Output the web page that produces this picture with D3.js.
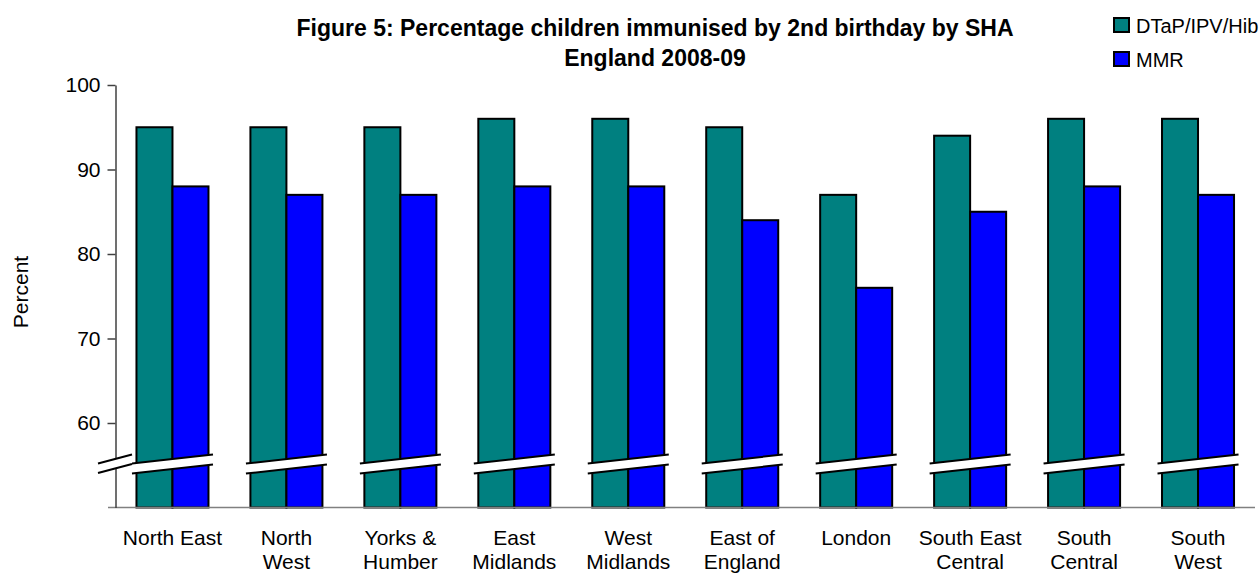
<!DOCTYPE html>
<html>
<head>
<meta charset="utf-8">
<script src="https://cdn.jsdelivr.net/npm/d3@7"></script>
<style>
  html, body { margin: 0; padding: 0; background: #fff; }
  svg { display: block; font-family: Arial, "Liberation Sans", sans-serif; }
</style>
</head>
<body>
<svg id="chart" width="1260" height="574"></svg>
<script>
// ---- data ----
const categories = ["North East", "North West", "Yorks & Humber", "East Midlands", "West Midlands",
                    "East of England", "London", "South East Central", "South Central", "South West"];
const categoryLabels = [["North East"], ["North", "West"], ["Yorks &", "Humber"], ["East", "Midlands"],
                        ["West", "Midlands"], ["East of", "England"], ["London"], ["South East", "Central"],
                        ["South", "Central"], ["South", "West"]];
const seriesNames = ["DTaP/IPV/Hib", "MMR"];
const dtapValues = [95, 95, 95, 96, 96, 95, 87, 94, 96, 96];
const mmrValues  = [88, 87, 87, 88, 88, 84, 76, 85, 88, 87];
const yTickValues = [60, 70, 80, 90, 100];
const yDomain = [50, 100];
const breakValue = 55.2;
const titleLines = ["Figure 5: Percentage children immunised by 2nd birthday by SHA", "England 2008-09"];
const yAxisTitle = "Percent";

const colors = { "DTaP/IPV/Hib": "#008080", "MMR": "#0000FF" };

// ---- layout ----
const svg = d3.select("#chart");
const plotLeft = 115.5, plotRight = 1255, plotTop = 85, plotBottom = 507.5;

const x0 = d3.scaleBand().domain(categories).range([plotLeft, plotRight])
  .paddingInner(0.368).paddingOuter(0.184);
const x1 = d3.scaleBand().domain(seriesNames).range([0, x0.bandwidth()]);
const y = d3.scaleLinear().domain(yDomain).range([plotBottom, plotTop]);

const rows = categories.map((c, i) => ({ cat: c, label: categoryLabels[i],
  vals: [{ s: seriesNames[0], v: dtapValues[i] }, { s: seriesNames[1], v: mmrValues[i] }] }));

// bars
const g = svg.append("g");
const groups = g.selectAll("g.grp").data(rows).join("g")
  .attr("class", "grp")
  .attr("transform", d => `translate(${x0(d.cat)},0)`);

groups.selectAll("rect").data(d => d.vals).join("rect")
  .attr("x", d => x1(d.s))
  .attr("y", d => y(d.v))
  .attr("width", x1.bandwidth())
  .attr("height", d => y(yDomain[0]) - y(d.v))
  .attr("fill", d => colors[d.s])
  .attr("stroke", "#000")
  .attr("stroke-width", 2);

// x axis line
svg.append("line")
  .attr("x1", 108).attr("x2", plotRight)
  .attr("y1", plotBottom).attr("y2", plotBottom)
  .attr("stroke", "#808080").attr("stroke-width", 1.5);

// y axis
const yAxis = d3.axisLeft(y).tickValues(yTickValues).tickSize(8).tickSizeOuter(0).tickPadding(7);
const ya = svg.append("g").attr("transform", `translate(${plotLeft},0)`).call(yAxis);
ya.select(".domain").attr("stroke", "#404040").attr("stroke-width", 1.5);
ya.selectAll(".tick line").attr("stroke", "#404040").attr("stroke-width", 1.5);
ya.selectAll(".tick text").attr("font-size", 21).attr("font-family", "Arial, 'Liberation Sans', sans-serif").attr("fill", "#000");

// breaks
const yb = y(breakValue);
const bw = x0.bandwidth();
function drawBreak(sel, xa, xb, rise, gap) {
  sel.append("polygon")
    .attr("points", `${xa},${yb} ${xb},${yb - rise} ${xb},${yb - rise + gap} ${xa},${yb + gap}`)
    .attr("fill", "#fff");
  [0, gap].forEach(o => sel.append("line")
    .attr("x1", xa).attr("y1", yb + o).attr("x2", xb).attr("y2", yb - rise + o)
    .attr("stroke", "#000").attr("stroke-width", 2));
}
groups.each(function () { drawBreak(d3.select(this), -4.5, bw + 4.5, 9, 10); });
drawBreak(svg.append("g").attr("transform", `translate(${plotLeft},0)`), -17.5, 16.5, 9, 9.5);

// x labels
groups.append("text")
  .attr("x", bw / 2)
  .attr("y", 545)
  .attr("text-anchor", "middle")
  .attr("font-size", 21)
  .attr("fill", "#000")
  .selectAll("tspan").data(d => d.label).join("tspan")
  .attr("x", bw / 2)
  .attr("dy", (d, i) => i === 0 ? 0 : 24)
  .text(d => d);

// y axis title
svg.append("text")
  .attr("transform", "translate(28,292) rotate(-90)")
  .attr("text-anchor", "middle")
  .attr("font-size", 21)
  .attr("fill", "#000")
  .text(yAxisTitle);

// title
svg.append("text")
  .attr("x", 655).attr("y", 36)
  .attr("text-anchor", "middle")
  .attr("font-size", 23).attr("font-weight", "bold")
  .selectAll("tspan").data(titleLines).join("tspan")
  .attr("x", 655)
  .attr("dy", (d, i) => i === 0 ? 0 : 30)
  .text(d => d);

// legend
const lg = svg.append("g").selectAll("g").data(seriesNames).join("g")
  .attr("transform", (d, i) => `translate(1114,${18 + i * 34})`);
lg.append("rect").attr("width", 15).attr("height", 14)
  .attr("fill", d => colors[d]).attr("stroke", "#000").attr("stroke-width", 2);
lg.append("text").attr("x", 22).attr("y", 15)
  .attr("font-family", "'Liberation Sans Narrow', 'Arial Narrow', Arial, sans-serif")
  .attr("font-size", 20).attr("fill", "#000")
  .text(d => d);
</script>
</body>
</html>
